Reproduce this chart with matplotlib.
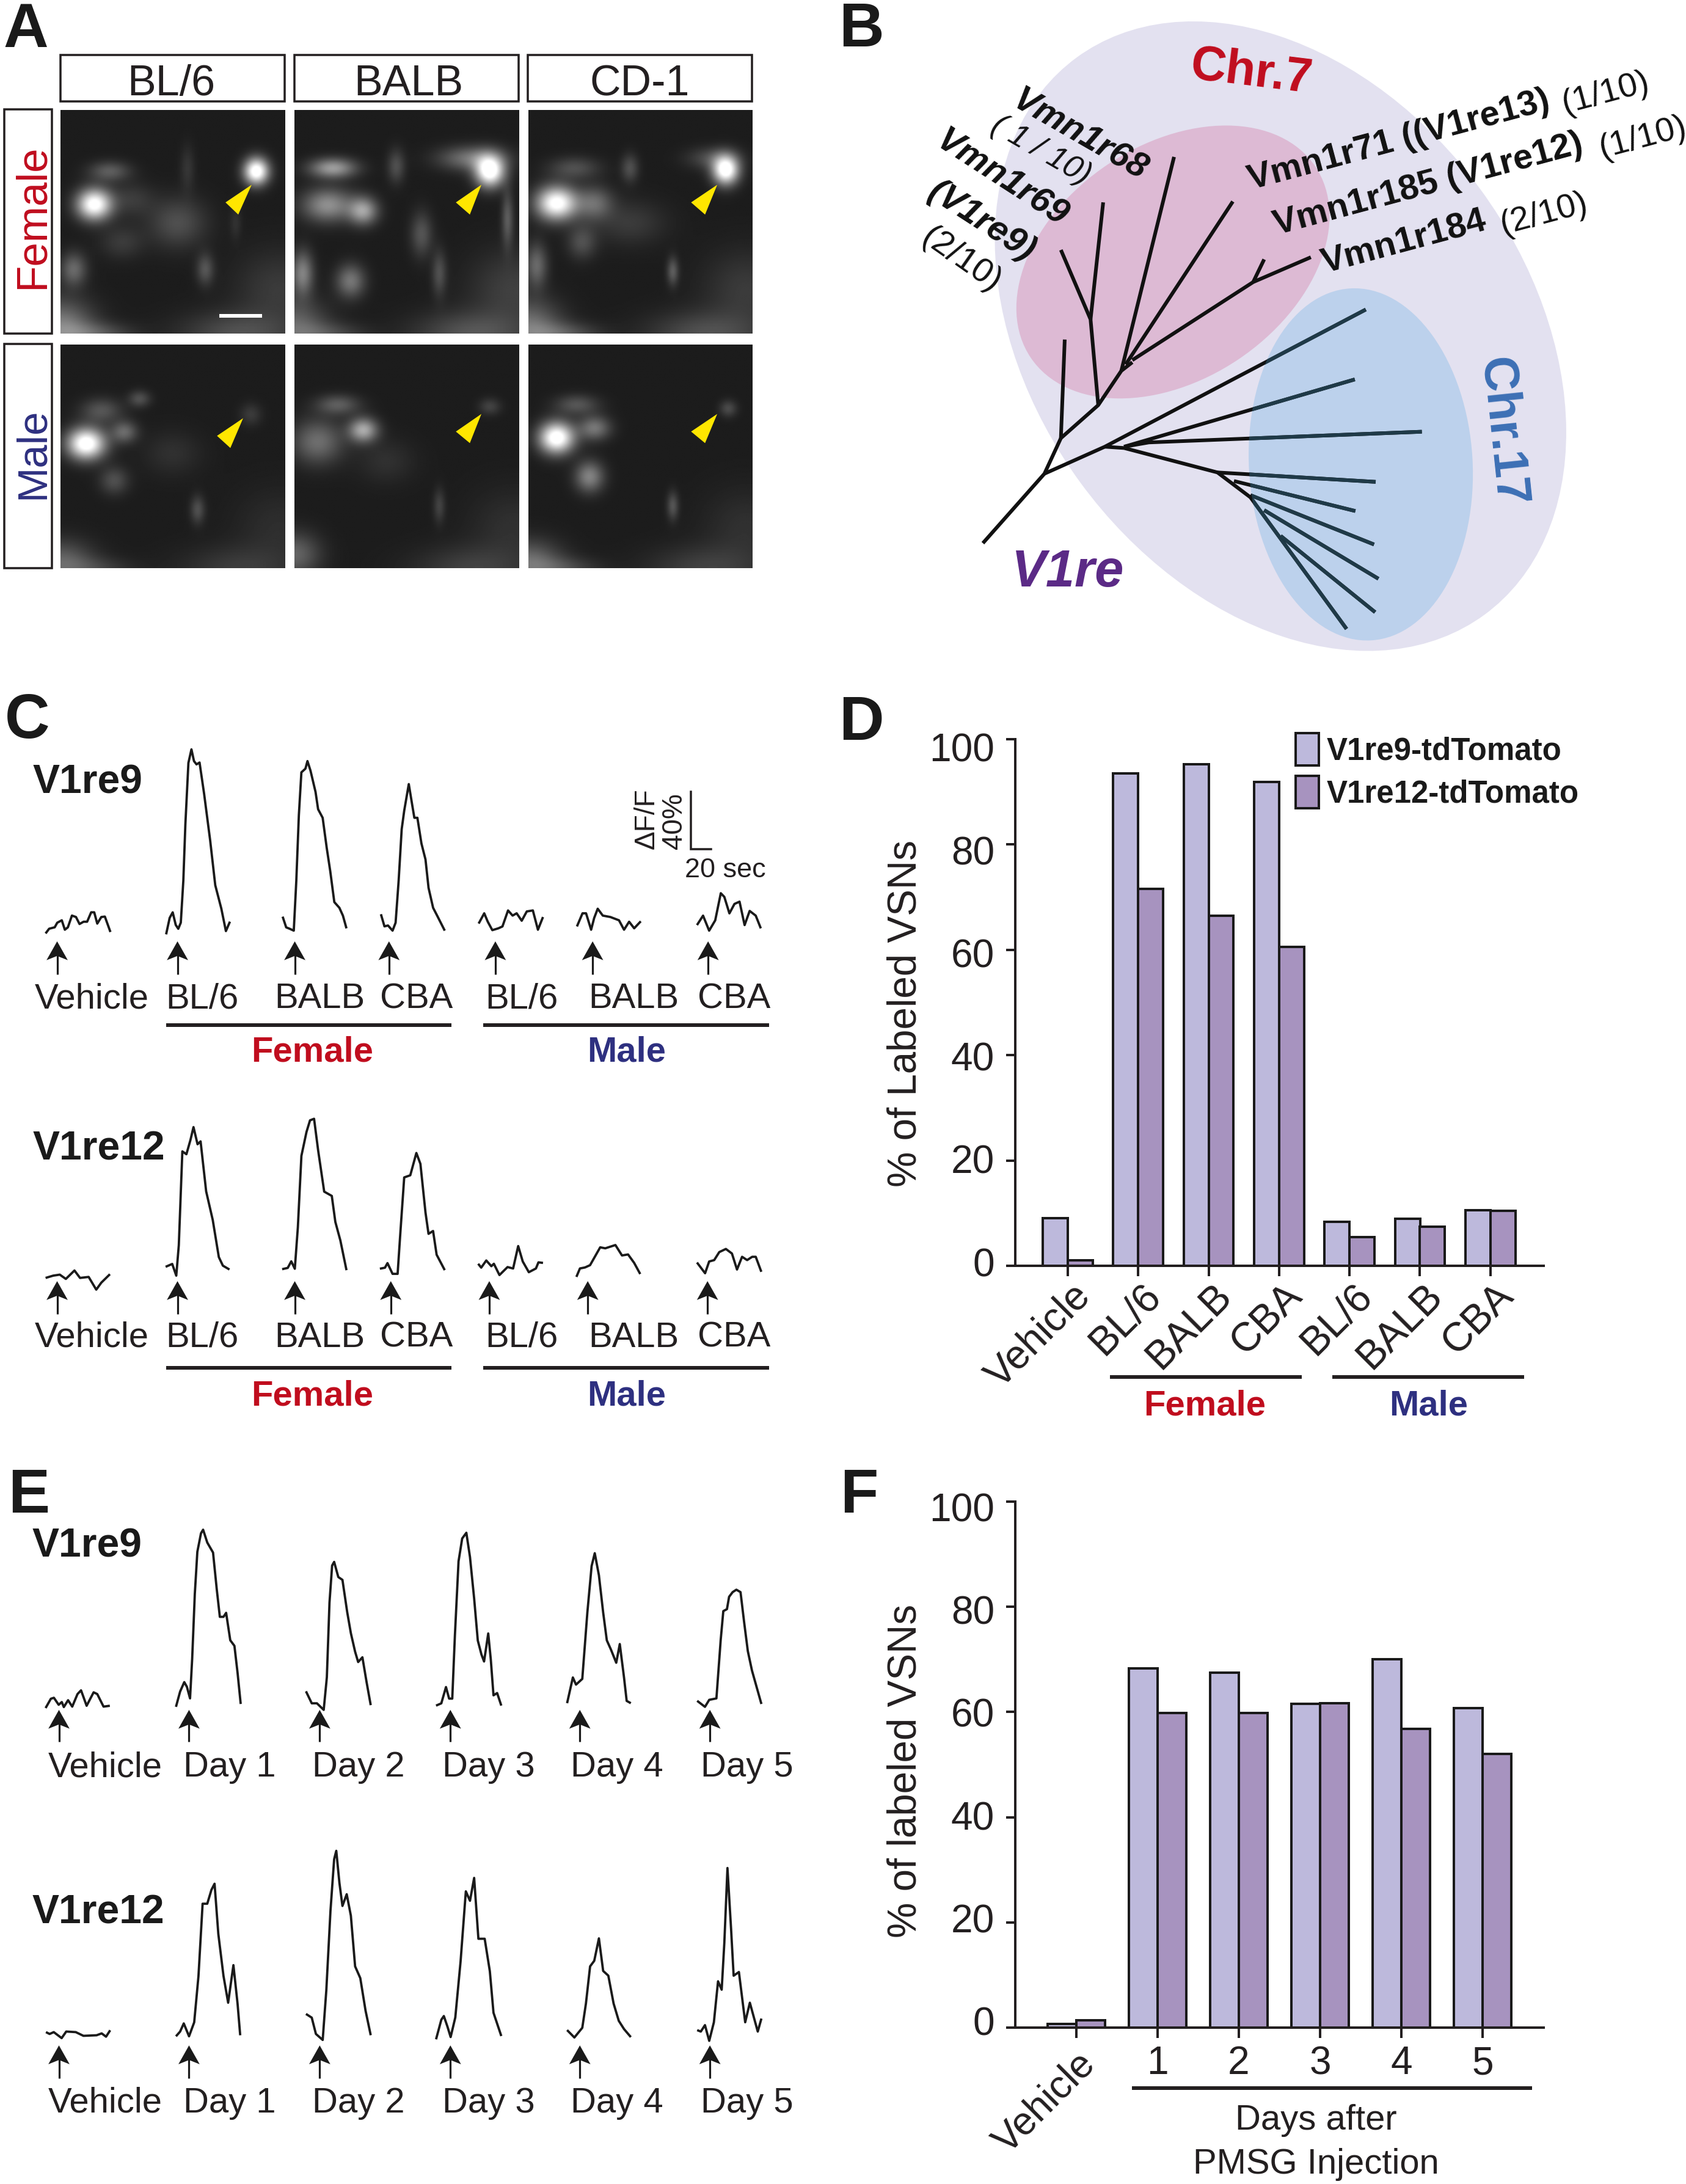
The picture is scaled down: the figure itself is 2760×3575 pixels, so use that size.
import numpy as np
import matplotlib
matplotlib.use("Agg")
import matplotlib.pyplot as plt
from matplotlib.patches import Ellipse, Polygon, Rectangle
from matplotlib.lines import Line2D
from matplotlib.transforms import ScaledTranslation

W, H, DPI = 2760, 3575, 100
plt.rcParams['font.family'] = ['Liberation Sans', 'DejaVu Sans']
INK = '#231F20'; RED = '#C00D1E'; BLUE = '#2E3080'; LIGHT = '#BDB9DC'; DARK = '#A793BF'
def pt(px): return px * 72 / DPI
def rect(l, t, r, b): return [l / W, 1 - b / H, (r - l) / W, (b - t) / H]

# ---- data: panel D / F bars
d_labels = ['Vehicle', 'BL/6', 'BALB', 'CBA', 'BL/6', 'BALB', 'CBA']
d_v1re9 = [9.0, 93.5, 95.2, 91.9, 8.4, 8.9, 10.55]
d_v1re12 = [1.0, 71.6, 66.5, 60.6, 5.4, 7.4, 10.4]
f_labels = ['Vehicle', '1', '2', '3', '4', '5']
f_v1re9 = [0.7, 68.3, 67.5, 61.6, 70.0, 60.8]
f_v1re12 = [1.4, 59.8, 59.8, 61.7, 56.8, 52.0]
y_ticks = [0, 20, 40, 60, 80, 100]
legend_names = ['V1re9-tdTomato', 'V1re12-tdTomato']

# ---- data: calcium traces, time in s and dF/F in %, one list per stimulus
c_labels = ['Vehicle', 'BL/6', 'BALB', 'CBA', 'BL/6', 'BALB', 'CBA']
c_v1re9_t = [
 [0,3.5,9,11.5,16,19,22,26,30,33.5,37.5,41,45,48,51,55,58.5,64],
 [0,3.5,6.5,9.5,12,14.5,17,19,22,25,27.5,30,33,37.5,43.5,48.5,54.5,59,63],
 [0,3.5,7,11,13.5,16,18.5,22.5,24.5,27.5,32.5,35,39.5,43.5,47,51,56,59.5,63],
 [0,3.5,7,11.5,14.5,17.5,20.5,23,27.5,31,33,36,40,44,47,51.5,55.5,59,63],
 [0,5.5,9,13.5,19.5,23.5,29,33.5,37.5,42.5,47.5,53.5,58.5,63.5],
 [0,5.5,9,14,17,20.5,25.5,33,41.5,46.5,51.5,56.5,63],
 [0,6,12,18,23.5,27,32,37,42,47,52,58,63]]
c_v1re9_v = [
 [0,3.3,4.3,7.5,9.2,2.6,4.3,12.5,11.5,6.6,8.2,8.2,14.8,14.8,6.9,11.5,11.8,1.0],
 [0,11.5,15.4,6.6,3.9,8.2,37.7,77,120,129.5,121.3,119,120.3,98.4,65.6,34.4,18,2.3,8.9],
 [9.8,2.3,1.3,0,35,80.7,110.8,113.4,118.7,112,97,85,79,58,41.6,20,16,10.5,1.6],
 [11.5,3,3.6,0,5.6,35,71,84,102.6,87.5,79,79,61,49.8,30,16,10.5,5.6,0],
 [4.6,11.8,5.9,0,1.3,2.6,13.8,10.2,11.8,6.6,13.1,13.8,0.3,9.2],
 [2.6,11.8,11.8,0.3,8.5,15,10.2,9.2,6.9,0.3,5.9,1.3,6.2],
 [3.9,10.5,0,7.2,26.2,23.6,12.1,18.7,20.3,3.9,13.8,10.5,1.6]]
c_v1re12_t = [
 [0,7.5,14,20,28.5,34,42.5,50,55,63.5],
 [0,6.5,10.5,13,16.5,20.5,24.5,27.5,31.5,34.5,40,46.5,52.5,56.5,63],
 [0,5.5,9,12.5,15.5,19,24,27.5,31.5,35.5,41.5,49,52.5,57.5,63.5],
 [0,5,7.5,12.5,17.5,20,24,30,36,40,45,48,52.5,56,64],
 [0,3,8,13,15.5,21,29,34.5,39.5,44,50,57,59.5,64],
 [0,3.5,8.5,13.5,23.5,28.5,38.5,45,51,57,63],
 [0,8,12,17,22,28.5,34.5,39.5,44.5,49.5,54.5,58,63.5]]
c_v1re12_v = [
 [8.2,9.8,10.5,7.5,13.4,8.2,8.9,0,4.9,10.8],
 [6.2,8.2,0,21.3,87,85,95,104,92,94,59,39,13,7,4.3],
 [0.7,1.6,6.2,1,30,80,96.7,104.9,106,84,55,52,33.8,20.7,0],
 [3.6,4.3,7.5,0,0,26.6,67.5,69,84.6,77,43,28,30,13.4,2.6],
 [7.9,5.2,10.2,6.2,7.9,0,5.6,4.6,20.3,9.5,2,4.6,8.9,8.5],
 [0,5.9,6.6,8.2,20.7,20,22.3,15,15.7,9.8,2],
 [7.5,0,8.2,9.2,14.8,17,13.8,2.6,11.5,9.2,11.5,11.5,1]]
e_labels = ['Vehicle', 'Day 1', 'Day 2', 'Day 3', 'Day 4', 'Day 5']
e_v1re9_t = [
 [0,5.2,8.2,12.9,16,18,22.2,26.3,31.5,35,40.5,47.4,51,57.2,63.4],
 [0,4.1,8.2,10.8,13.9,16,18.6,21.1,24.7,26.8,30.9,36.6,40.2,43.3,46.9,49.5,53.6,57.7,60.8,63.9],
 [0,5.7,10.8,17.5,20.6,23.2,25.8,27.8,31.9,36,40.7,44.3,48.5,51.5,55.7,59.8,63.9],
 [0,5.2,9.8,12.9,16,18.6,22.2,25.8,29.9,33.5,37.6,41.2,44.8,47.4,51.5,54,56.7,60.3,64.4],
 [0,5.7,8.8,15,20,24.2,27.3,31.4,35.6,39.2,43.3,48.5,52,56.2,58.8,62.9],
 [0,7.7,11.9,19,23.2,25.8,29.4,31.5,35,38.7,42.8,46.4,50,54.1,63.4]]
e_v1re9_v = [
 [0,6.5,7.2,2.3,4.2,0.7,5.5,1,9.8,12.4,1.6,11,9.8,1,1.6],
 [0,10.7,17.3,14,5.9,33.6,79,108.5,121.5,124,115,108,82.7,63,63,65.8,46.6,42.7,23.8,2],
 [13,4.6,4.6,0,22.8,75,101,103.6,93,91,68.4,53.7,40.7,33.5,36.8,19.5,3.3],
 [0,1.6,13,4.9,4.9,49,101,117,121,104,75,45.6,35.8,30.9,50.5,32.6,7.2,8.8,0],
 [0,18,13,17,63.5,96,105,89.6,63.5,44,37.5,28.3,41.4,17.9,1.6,0],
 [4.2,0,4.9,5.9,46.6,67,68.4,77,80.3,82,80.3,59,39,25.4,2]]
e_v1re12_t = [
 [0,3.6,7.7,15.5,20,29.4,37,50,55,59.3,63.4],
 [0,4.1,7.7,12.9,18,22.2,26.3,30.9,35,38.1,41.8,46.9,51.5,56.7,60.8,63.4],
 [0,5.7,9.8,16.5,20.1,24.2,27.8,29.9,33,36,40.2,44.3,48.5,53.6,58.8,63.9],
 [0,5.2,7.7,11.3,14.4,19,24.2,29.4,33.5,37.6,41.8,48,53.1,56.7,64.4],
 [0,7.2,15,18.6,22.7,26.8,31.4,35.6,40.7,45.9,51,56.2,62.9],
 [0,3.6,7.7,11.9,16.5,20.6,24.2,26.8,29.9,33.5,36,41.2,47.4,52,59.8,63.4]]
e_v1re12_v = [
 [4.2,2.9,4.2,0,4.6,4.2,1.6,2,3.3,1,5.5],
 [0,3.3,9,0,9.8,42,92.8,92.8,102.5,106.8,71.7,42.3,23.5,49.8,22.8,0.7],
 [18.2,15.6,4.2,0,35,90.6,126.5,132.4,110,93.8,102,87,51.5,43.3,20.5,3.3],
 [0,13.7,16.3,8.8,1.6,15.3,54.4,103.6,97,113,70.4,70.4,47.6,18.6,2.3],
 [5.2,0,6.8,23.8,49.8,53.7,69.4,46.6,43.3,23.8,11.7,5.9,0.3],
 [7.5,6.5,11,0,13,41.7,35.8,68.4,121,78,45.6,48.2,13,26.7,6.5,15.6]]
scale_pct, scale_sec = 40, 20

# ---- data: micrograph panels, bright cells (x, y, peak, sx, sy) in panel units 443 x 575
img_f_bl6 = [(386,158,1.0,17,24),(66,243,.95,24,28),(96,158,.25,28,18),(230,290,.2,40,45),(25,410,.3,18,30),(285,410,.22,12,28),(250,150,.1,10,40),(120,340,.12,30,30),(140,230,.12,30,30),(0,560,.4,45,50),(70,575,.2,50,20),(350,575,.2,80,40),(430,460,.12,60,70),(345,290,.08,8,30)]
img_f_balb = [(385,158,1.0,20,28),(350,125,.35,45,22),(75,150,.5,32,18),(65,245,.45,35,30),(135,260,.5,20,25),(200,145,.2,12,30),(110,440,.35,20,30),(15,420,.4,15,40),(250,320,.22,15,40),(285,420,.2,10,40),(420,280,.25,8,50),(350,575,.22,80,40),(430,460,.14,60,70),(0,560,.3,45,50),(70,575,.15,50,20)]
img_f_cd1 = [(390,155,1.0,18,26),(365,125,.2,35,20),(55,240,.95,28,30),(130,240,.3,25,30),(90,150,.2,35,20),(200,150,.2,12,25),(105,340,.2,20,30),(15,400,.3,15,40),(285,415,.25,8,25),(350,575,.2,80,40),(430,460,.12,60,70),(0,560,.35,45,50),(70,575,.2,50,20),(200,290,.12,50,40)]
img_m_bl6 = [(50,255,1.0,26,28),(155,140,.2,15,15),(80,170,.22,28,22),(125,225,.3,18,20),(105,350,.2,20,25),(270,425,.2,10,25),(375,180,.12,15,20),(0,560,.28,45,40),(70,575,.12,50,20),(350,575,.12,80,40),(430,470,.07,60,70),(220,280,.08,40,40)]
img_m_balb = [(135,220,.55,20,22),(85,155,.25,30,18),(45,250,.32,35,40),(385,160,.15,15,15),(285,415,.15,8,30),(0,540,.28,35,40),(350,575,.14,80,40),(430,470,.08,60,70),(180,300,.08,40,40)]
img_m_cd1 = [(55,240,1.0,24,28),(130,215,.35,22,22),(95,155,.22,30,18),(120,340,.4,20,28),(395,165,.18,12,15),(285,415,.22,8,25),(0,560,.32,45,40),(70,575,.15,50,20),(350,575,.14,80,40),(430,470,.08,60,70)]
strain_names = ['BL/6', 'BALB', 'CD-1']

# ---- layout, figure pixels
K = 0.995
PX_S, PX_PCT = 1.667 * K, 2.35 * K
def fx(x): return x * K if x < 1350 else 1350 + (x - 1350) * K
def fy(y):
    if y < 1100: return y * K
    return 1120 + (y - 1120) * K if y < 2350 else 2380 + (y - 2380) * K

fig = plt.figure(figsize=(W / DPI, H / DPI), dpi=DPI, facecolor='white')

def micrograph(cells, l, t, r, b):
    ax = fig.add_axes(rect(fx(l), fy(t), fx(r), fy(b))); ax.set_axis_off()
    X, Y = np.meshgrid(np.arange(0, 444, 2), np.arange(0, 576, 2))
    g = 0.11 + sum(a * np.exp(-((X - x) / sx) ** 2 / 2 - ((Y - y) / sy) ** 2 / 2) for x, y, a, sx, sy in cells)
    ax.imshow(np.clip(g, 0, 1), cmap='gray', vmin=0, vmax=1, aspect='auto', interpolation='bilinear')

col_x = [(99, 468), (484, 853), (869, 1237)]
for (l, r), c1, c2 in zip(col_x, [img_f_bl6, img_f_balb, img_f_cd1], [img_m_bl6, img_m_balb, img_m_cd1]):
    micrograph(c1, l, 181, r, 549); micrograph(c2, l, 567, r, 935)

ov = fig.add_axes([0, 0, 1, 1], zorder=5); ov.set_xlim(0, W); ov.set_ylim(H, 0); ov.set_axis_off(); ov.patch.set_alpha(0)

def T(x, y, s, em, weight='normal', color=INK, ha='left', rot=0, style='normal', raw=False):
    if not raw: x, y = fx(x), fy(y)
    return ov.text(x, y, s, fontsize=pt(em), fontweight=weight, color=color, ha=ha, va='baseline', rotation=rot,
                   rotation_mode='anchor', fontstyle=style)
def L(xs, ys, lw, color=INK):
    ov.add_line(Line2D([fx(x) for x in xs], [fy(y) for y in ys], lw=pt(lw), color=color, solid_capstyle='butt'))
def box(l, t, r, b):
    ov.add_patch(Rectangle((fx(l), fy(t)), fx(r) - fx(l), fy(b) - fy(t), fc='none', ec=INK, lw=pt(3.5)))
def poly(pts, fc):
    ov.add_patch(Polygon([(fx(x), fy(y)) for x, y in pts], fc=fc, ec='none'))

for s, x, y in [('A', 5, 77), ('B', 1373, 76), ('C', 8, 1208), ('D', 1373, 1211), ('E', 13, 2476), ('F', 1375, 2476)]:
    T(x, y, s, 102, 'bold', '#1a1a1a', raw=True)

# Panel A frames
for (l, r), s, cx in zip([(99, 468), (484, 853), (868, 1237)], strain_names, [282, 672, 1052]):
    box(l, 90, r, 167)
    T(cx, 157, s, 70, ha='center')
for t0, b0, s, c, cy, em in [(180, 549, 'Female', RED, 355, 71), (566, 935, 'Male', BLUE, 742, 69)]:
    box(7, t0, 85, b0)
    T(72, cy, s, em, color=c, ha='center', rot=90, raw=True)
for tri in [[(414,304),(371,333),(392,353)], [(792,304),(750,333),(773,353)], [(1180,304),(1137,333),(1160,353)],
            [(400,688),(357,717),(379,737)], [(792,681),(750,710),(773,729)], [(1180,681),(1137,710),(1160,729)]]:
    poly(tri, '#FFE600')
L([361, 431], [520, 520], 6, 'white')

# Panel B
ov.add_patch(Ellipse((fx(2100), fy(553)), 1136 * K, 816 * K, angle=53.8, fc='#E3E1F0', ec='none'))
ov.add_patch(Ellipse((fx(1923), fy(431)), 564 * K, 386 * K, angle=-33.9, fc='#DDBAD4', ec='none'))
blue = Ellipse((fx(2232), fy(764)), 580 * K, 368 * K, angle=86.6, fc='#BCD1EC', ec='none')
ov.add_patch(blue)
tree_paths = [
 [(288,1267),(400,1105),(430,1022),(498,945),(540,865),(560,845)],
 [(430,1022),(437,792)], [(498,945),(484,745),(430,583)], [(484,745),(507,472)],
 [(540,865),(636,366)], [(548,850),(743,470)], [(560,840),(780,658),(885,600)], [(780,658),(800,605)],
 [(400,1105),(510,1042),(985,722)], [(510,1042),(545,1045),(715,1102),(775,1160),(950,1467)],
 [(545,1042),(965,885)], [(545,1042),(590,1032),(1087,1007)], [(715,1102),(1003,1124)], [(745,1122),(966,1192)],
 [(775,1155),(1000,1270)], [(800,1190),(1008,1350)], [(830,1250),(1002,1428)]]
for p in tree_paths:
    a = np.array(p, float); xs = 1350 + a[:, 0] / 1.112; ys = a[:, 1] / 1.425
    ov.add_line(Line2D(xs, ys, lw=pt(6), color='#111111', solid_capstyle='butt'))
    tl = Line2D(xs, ys, lw=pt(6), color='#1F3A48', solid_capstyle='butt'); ov.add_line(tl); tl.set_clip_path(blue)
T(2046, 140, 'Chr.7', 80, 'bold', RED, 'center', rot=-7, raw=True)
T(2438, 709, 'Chr.17', 80, 'bold', '#3D70B5', 'center', rot=-84, raw=True)
T(1748, 960, 'V1re', 85, 'bold', '#5B2A86', 'center', style='italic', raw=True)
T(1759, 235, 'Vmn1r68', 58, 'bold', '#111111', 'center', rot=-30, style='italic', raw=True)
T(1697, 258, '( 1 / 10)', 52, color='#111111', ha='center', rot=-30, style='italic', raw=True)
T(1631, 305, 'Vmn1r69', 58, 'bold', '#111111', 'center', rot=-33, style='italic', raw=True)
T(1599, 376, '(V1re9)', 58, 'bold', '#111111', 'center', rot=-33, style='italic', raw=True)
T(1565, 437, '(2/10)', 56, color='#111111', ha='center', rot=-35, raw=True)
for x, y, s in [(2048, 310, 'Vmn1r71 ((V1re13)'), (2090, 384, 'Vmn1r185 (V1re12)'), (2168, 448, 'Vmn1r184')]:
    T(x, y, s, 58, 'bold', '#111111', rot=15, raw=True)
for x, y, s in [(2561, 185, '(1/10)'), (2622, 258, '(1/10)'), (2460, 383, '(2/10)')]:
    T(x, y, s, 56, color='#111111', rot=15, raw=True)

# Traces: axes in seconds and percent
tr = fig.add_axes([0, 0, 1, 1], zorder=6); tr.set_axis_off(); tr.patch.set_alpha(0)
tr.set_xlim(0, W / PX_S); tr.set_ylim(0, H / PX_PCT)
def traces(ts, vs, origins):
    for t, v, (x, y) in zip(ts, vs, origins):
        tr.plot(np.array(t) + fx(x) / PX_S, np.array(v) + (H - fy(y)) / PX_PCT, color='#1a1a1a', lw=pt(3.8),
                solid_joinstyle='round', solid_capstyle='butt')
traces(c_v1re9_t, c_v1re9_v, [(75,1530),(273.3,1531.5),(465,1525.4),(626.7,1525.4),(787.5,1524.6),(949.2,1524.6),(1146.7,1525.4)])
traces(c_v1re12_t, c_v1re12_v, [(75,2116),(272.5,2093),(464.2,2084),(625,2090),(786.7,2092),(948.3,2095),(1146.7,2089)])
traces(e_v1re9_t, e_v1re9_v, [(75,2798),(289.5,2796),(503.4,2801),(717.4,2794),(933,2790),(1147,2796)])
traces(e_v1re12_t, e_v1re12_v, [(75.6,3341),(289.5,3338),(503.4,3344),(717.4,3343),(933,3340),(1147,3345.5)])
sx0, sy0 = fx(1137) / PX_S, (H - fy(1391)) / PX_PCT
tr.plot([sx0, sx0, sx0 + scale_sec], [sy0 + scale_pct, sy0, sy0], color=INK, lw=pt(3.5), solid_joinstyle='miter')

def arrow(x, tip, tail):
    L([x, x], [tip + 20, tail], 3.2, '#1a1a1a')
    poly([(x, tip), (x - 17.5, tip + 31), (x, tip + 24), (x + 17.5, tip + 31)], '#1a1a1a')
for x in [94,292,485,640,815,975,1165]: arrow(x, 1543, 1597)
for x in [94,292,485,643,805,967,1164]: arrow(x, 2102, 2156)
for x in [97,311,526,741,954,1168]: arrow(x, 2801, 2853); arrow(x, 3353, 3407)

for y, yl, yf in [(1653, 1681, 1741), (2210, 2245, 2306)]:
    for s, x in zip(c_labels, [57, 273, 452, 625, 798, 968, 1148]):
        T(x, y, s, 58)
    L([273, 743], [yl, yl], 6); L([795, 1265], [yl, yl], 6)
    T(514, yf, 'Female', 58, 'bold', RED, 'center'); T(1031, yf, 'Male', 58, 'bold', BLUE, 'center')
T(54, 1299, 'V1re9', 66, 'bold', '#1a1a1a'); T(54, 1902, 'V1re12', 66, 'bold', '#1a1a1a')
T(53, 2549, 'V1re9', 66, 'bold', '#1a1a1a'); T(53, 3152, 'V1re12', 66, 'bold', '#1a1a1a')
T(1127, 1438, '20 sec', 45)
T(1076, 1391, '\u0394F/F', 46, rot=90); T(1122, 1391, '40%', 46, rot=90)
for y in [2911, 3463]:
    for s, x in zip(e_labels, [79, 302, 514, 728, 939, 1153]):
        T(x, y, s, 58)

# Bars
def bars(axbox, x0, step, labels, a, b, ylabel):
    l, t, r, bt = axbox
    ax = fig.add_axes(rect(*axbox), zorder=7); ax.patch.set_alpha(0)
    ax.set_xlim((l - x0) / step, (r - x0) / step); ax.set_ylim(0, 100)
    w = 0.354; x = np.arange(len(labels))
    kw = dict(width=w, edgecolor='#1a1a1a', linewidth=pt(4), clip_on=False)
    ax.bar(x - w / 2, a, color=LIGHT, label=legend_names[0], **kw)
    ax.bar(x + w / 2, b, color=DARK, label=legend_names[1], **kw)
    for s in ('top', 'right'): ax.spines[s].set_visible(False)
    for s in ('left', 'bottom'): ax.spines[s].set_linewidth(pt(4)); ax.spines[s].set_color(INK)
    ax.set_yticks(y_ticks); ax.set_xticks(x); ax.set_xticklabels(labels)
    ax.tick_params(axis='y', length=pt(15), width=pt(4), labelsize=pt(64), pad=pt(19), colors=INK)
    ax.tick_params(axis='x', length=pt(17), width=pt(4), labelsize=pt(64), colors=INK)
    ax.set_ylabel(ylabel, fontsize=pt(65.5), color=INK)
    return ax
def shift_ylabels(ax, dy0, dy1):
    for lab, v in zip(ax.get_yticklabels(), y_ticks):
        dy = dy0 + (dy1 - dy0) * v / 100
        lab.set_transform(lab.get_transform() + ScaledTranslation(0, -dy / DPI, fig.dpi_scale_trans))

axd = bars((1662, 1210, 2527, 2072), 1748, 115.3, d_labels, d_v1re9, d_v1re12, '% of Labeled VSNs')
for lab in axd.get_xticklabels():
    lab.set_rotation(45); lab.set_ha('right'); lab.set_va('top'); lab.set_rotation_mode('anchor'); lab.set_fontsize(pt(66))
axd.tick_params(axis='x', pad=pt(4))
for lab in axd.get_xticklabels():
    lab.set_transform(lab.get_transform() + ScaledTranslation(6 / DPI, 3 / DPI, fig.dpi_scale_trans))
shift_ylabels(axd, -6, 13)
axd.yaxis.set_label_coords((1514 - 1662) / 865, (2072 - 1659) / 862)
axd.legend(loc='upper left', bbox_to_anchor=(fx(2125), 1200), bbox_transform=ov.transData, frameon=False,
           prop={'size': pt(51), 'weight': 'bold'}, labelcolor='#1a1a1a', borderpad=0, borderaxespad=0,
           handlelength=37.5 / 51, handleheight=62 / 51, handletextpad=0.25, labelspacing=0.3)

axf = bars((1662, 2458, 2527, 3319), 1762, 133.0, f_labels, f_v1re9, f_v1re12, '% of labeled VSNs')
lab0 = axf.get_xticklabels()[0]
lab0.set_rotation(45); lab0.set_ha('right'); lab0.set_va('top'); lab0.set_rotation_mode('anchor')
axf.tick_params(axis='x', pad=pt(12))
shift_ylabels(axf, -11, 9)
axf.yaxis.set_label_coords((1514 - 1662) / 865, (3319 - 2899) / 861)

L([1819, 2135], [2260, 2260], 6); L([2185, 2501], [2260, 2260], 6)
T(1975, 2323, 'Female', 58, 'bold', RED, 'center'); T(2344, 2323, 'Male', 58, 'bold', BLUE, 'center')
L([1856, 2514], [3423, 3423], 6)
T(2158, 3492, 'Days after', 58, ha='center'); T(2158, 3564, 'PMSG Injection', 58, ha='center')

fig.savefig('out.png', dpi=DPI, facecolor='white')
